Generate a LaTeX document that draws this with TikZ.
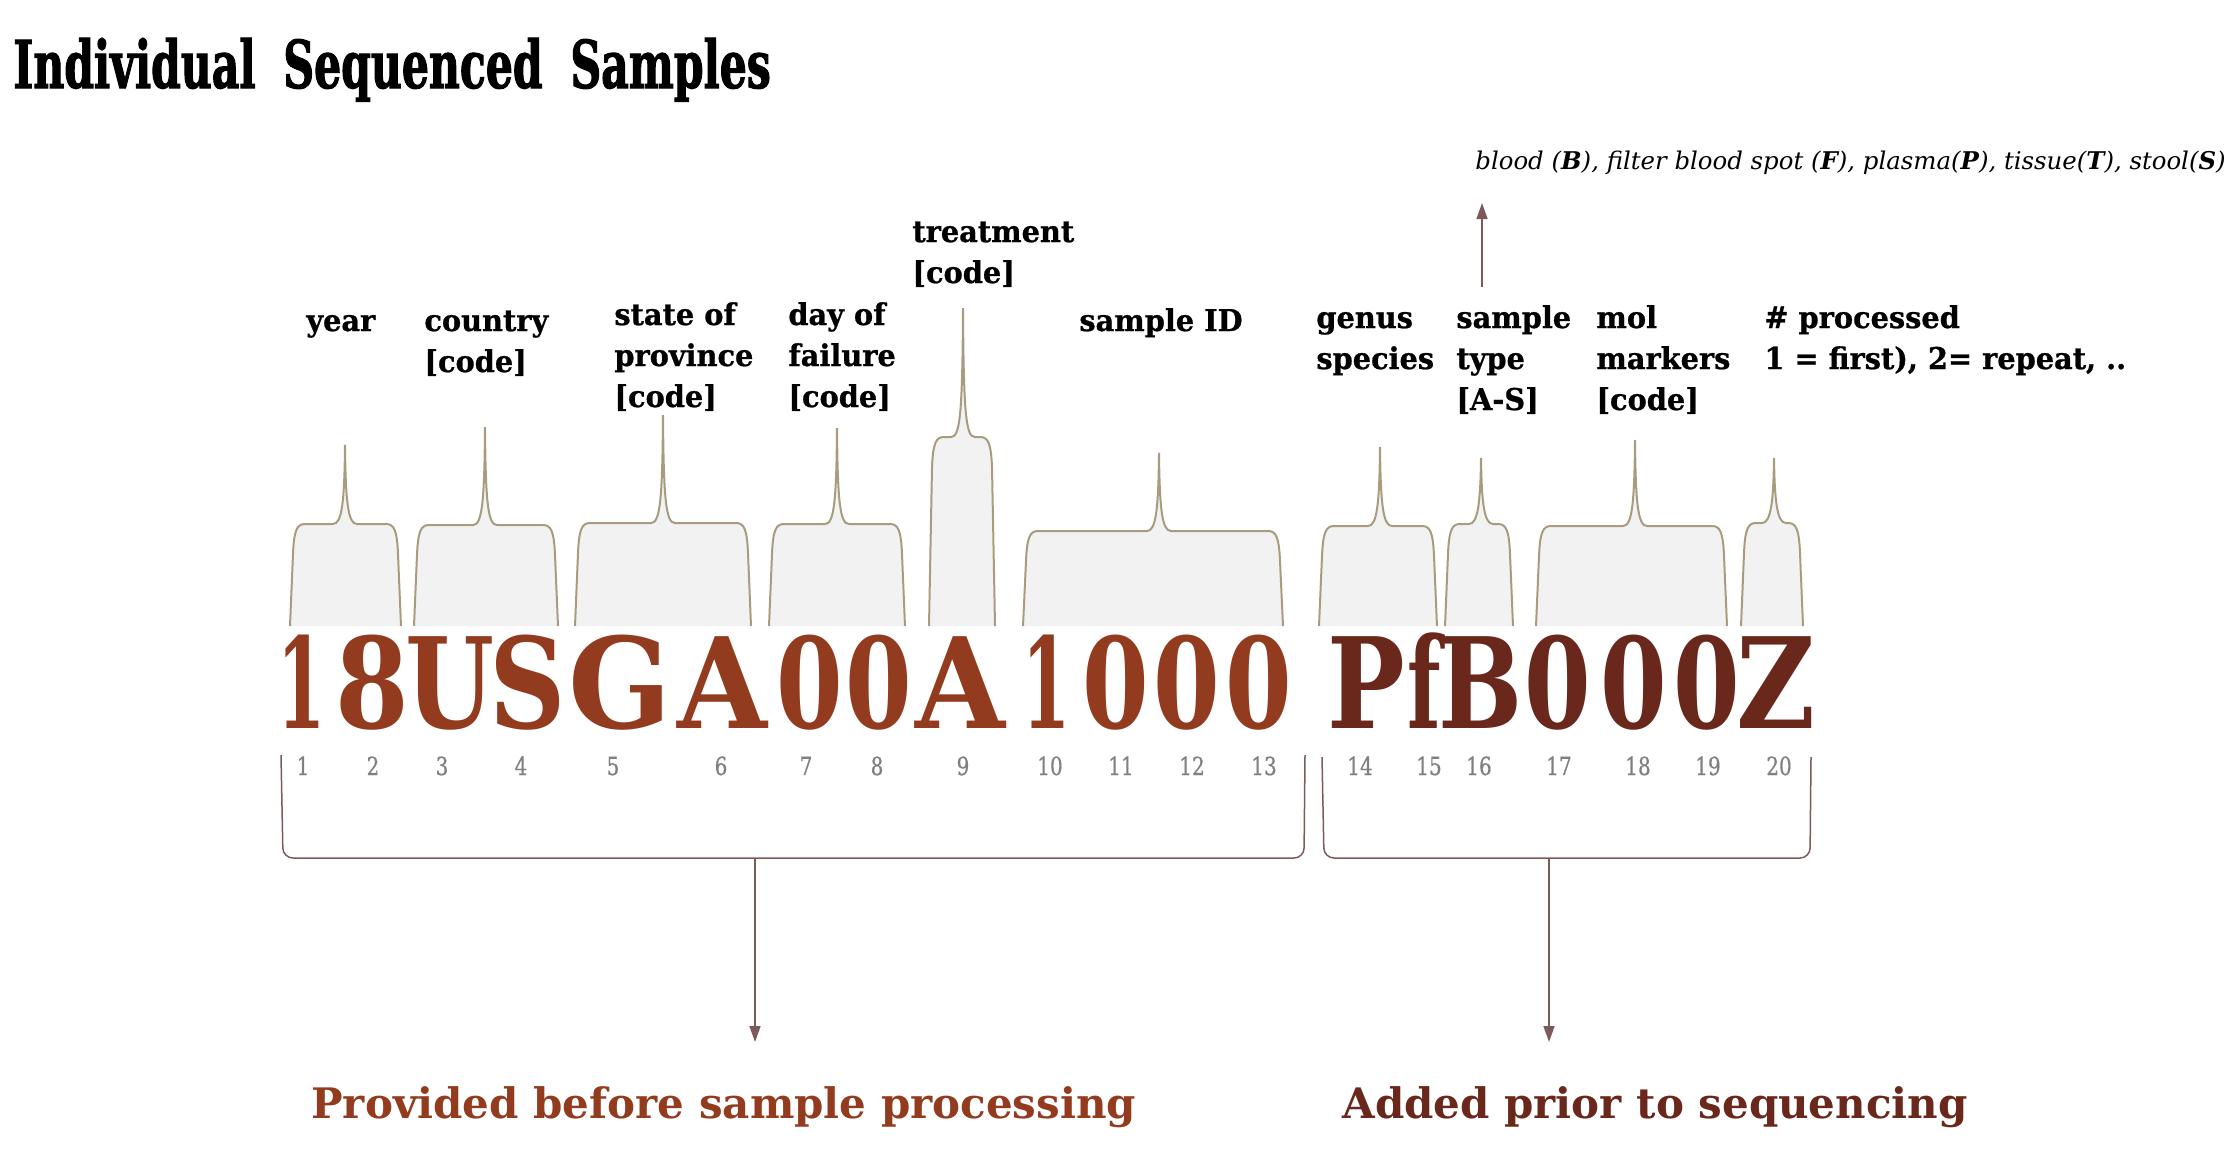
\documentclass[tikz,border=0pt]{standalone}
\usepackage{fontspec}
\setmainfont{DejaVu Serif}
\newfontfamily\titlefont[FakeStretch=0.645, BoldFeatures={FakeBold=1.5}]{DejaVu Serif}
\newfontfamily\labelfont[FakeStretch=0.96, BoldFeatures={FakeBold=0.8}]{DejaVu Serif}
\newfontfamily\glyphfont{DejaVu Serif}
\newfontfamily\indexfont[FakeStretch=0.8, FakeBold=0.6]{DejaVu Serif}
\usetikzlibrary{arrows.meta}

\definecolor{codeA}{HTML}{933B1E}
\definecolor{codeB}{HTML}{6A271C}
\definecolor{capedge}{HTML}{A99B7E}
\definecolor{capfill}{HTML}{F2F2F2}
\definecolor{linkc}{HTML}{7D5A5A}
\definecolor{idxgray}{HTML}{808080}

\tikzset{
  capshape/.style={draw=capedge, fill=capfill, line width=1pt},
  lab/.style={font=\labelfont\bfseries\fontsize{15}{20.5}\selectfont, align=left, anchor=base west, inner sep=0pt},
  bigch/.style={font=\glyphfont\bfseries\fontsize{63}{63}\selectfont, anchor=base, inner sep=0pt},
  idx/.style={font=\indexfont\fontsize{12.5}{12.5}\selectfont, text=idxgray, anchor=base, inner sep=0pt},
  group/.style={font=\bfseries\fontsize{21}{21}\selectfont, anchor=base west, inner sep=0pt},
  link/.style={draw=linkc, line width=0.75pt},
  linkarrow/.style={link, -{Triangle[length=8pt,width=5.5pt]}},
  brace/.style={link, rounded corners=5pt},
}

% field cap: left, right, top, spike x, spike tip
\newcommand\fieldcap[5]{%
  \draw[capshape] (#1,626) -- (#1+3,#3+30) .. controls (#1+4,#3+6) and (#1+7,#3) .. (#1+15,#3)
    -- (#4-12,#3) .. controls (#4-3,#3) and (#4-0.6,#3-22) .. (#4,#5)
    .. controls (#4+0.6,#3-22) and (#4+3,#3) .. (#4+12,#3)
    -- (#2-15,#3) .. controls (#2-7,#3) and (#2-4,#3+6) .. (#2-3,#3+30) -- (#2,626);
}

\begin{document}
\begin{tikzpicture}[x=0.5pt,y=-0.5pt]
\useasboundingbox (0,0) rectangle (2230,1152);

% title
\node[font=\titlefont\bfseries\fontsize{33}{33}\selectfont, anchor=base west, inner sep=0pt]
  (title) at (13,88) {Individual\hspace{6.5pt} Sequenced\hspace{6.5pt} Samples};

% caps over each field
\fieldcap{290}{401}{524}{345}{445}
\fieldcap{414}{558}{525}{485}{427}
\fieldcap{575}{751}{523}{663}{415}
\fieldcap{769}{905}{524}{837}{428}
\fieldcap{929}{995}{437}{963}{308}
\fieldcap{1023}{1283}{531}{1159}{453}
\fieldcap{1319}{1437}{526}{1380}{447}
\fieldcap{1445}{1513}{524}{1481}{458}
\fieldcap{1536}{1727}{526}{1635}{440}
\fieldcap{1741}{1803}{523}{1774}{458}

% field labels (each node sits on the baseline of its last line)
\node[lab] (fyear) at (306,331) {year};
\node[lab] (fcountry) at (424,372) {country\\ {[code]}};
\node[lab] (fstate) at (614,407) {state of\\ province\\ {[code]}};
\node[lab] (fday) at (788,407) {day of\\ failure\\ {[code]}};
\node[lab] (ftreat) at (912,283) {treatment\\ {[code]}};
\node[lab] (fid) at (1079,331) {sample ID};
\node[lab] (fgenus) at (1316,369) {genus\\ species};
\node[lab] (ftype) at (1456,410) {sample\\ type\\ {[A-S]}};
\node[lab] (fmol) at (1596,410) {mol\\ markers\\ {[code]}};
\node[lab] (fproc) at (1764,369) {\# processed\\ 1 = first), 2= repeat, ..};

% sample type legend
\node[font=\fontsize{12.2}{12.2}\selectfont\itshape, anchor=base west, inner sep=0pt] (blood) at (1475,169)
  {blood (\textbf{B}), filter blood spot (\textbf{F}), plasma(\textbf{P}), tissue(\textbf{T}), stool(\textbf{S})};
\coordinate (typeup) at (1482,287);
\coordinate (typetip) at (1482,203);
\draw[linkarrow] (typeup) -- (typetip);

% the sample code, one glyph per position
\foreach \c/\x/\s/\k [count=\i] in {
  1/302/0.55/codeA, 8/372/0.84/codeA, U/450/0.81/codeA, S/528/0.84/codeA,
  G/620/0.96/codeA, A/722/0.92/codeA, 0/810/0.76/codeA, 0/879/0.76/codeA,
  A/960/0.92/codeA, 1/1047/0.55/codeA, 0/1116/0.76/codeA, 0/1187/0.76/codeA,
  0/1259/0.76/codeA, P/1366/0.82/codeB, f/1424/0.62/codeB, B/1481/0.79/codeB,
  0/1558/0.76/codeB, 0/1634/0.76/codeB, 0/1707/0.76/codeB, Z/1776/0.86/codeB}
  \node[bigch, text=\k] (ch\i) at (\x,728) {\scalebox{\s}[1]{\c}};

% position numbers
\foreach \x [count=\i] in {303,373,442,521,613,721,806,877,963,1050,1121,1192,1264,1360,1429,1479,1559,1638,1708,1779}
  \node[idx] (n\i) at (\x,775) {\i};

% grouping brackets
\draw[brace] (281,755) -- (283,858) -- (1304,858) -- (1305,755);
\draw[brace] (1322,757) -- (1324,858) -- (1810,858) -- (1811,757);
\coordinate (grpA) at (755,858);
\coordinate (tipA) at (755,1042);
\coordinate (grpB) at (1549,858);
\coordinate (tipB) at (1549,1042);
\draw[linkarrow] (grpA) -- (tipA);
\draw[linkarrow] (grpB) -- (tipB);

\node[group, text=codeA] (prov) at (311,1118) {Provided before sample processing};
\node[group, text=codeB] (added) at (1342,1118) {Added prior to sequencing};
\end{tikzpicture}
\end{document}
